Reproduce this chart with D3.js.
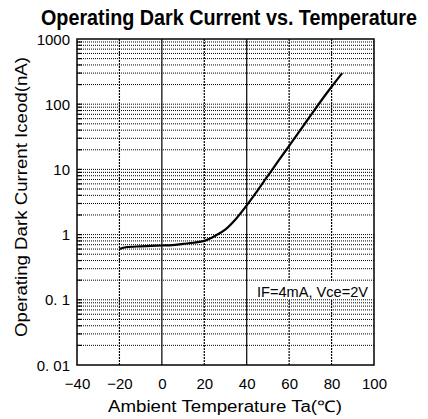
<!DOCTYPE html>
<html><head><meta charset="utf-8">
<script src="https://cdn.jsdelivr.net/npm/d3@7"></script>
<style>
html,body{margin:0;padding:0;background:#fff;}
svg text{font-family:"Liberation Sans",Arial,Helvetica,sans-serif;fill:#000;}
</style></head>
<body>
<svg id="chart" width="428" height="419"></svg>
<script>
// ---- data ----
const temperature = [-20, -17, -10, -5, 0, 5, 10, 15, 20, 25, 30, 35, 40, 45, 50, 55, 60, 65, 70, 75, 80, 85];
const darkCurrent = [0.60, 0.64, 0.66, 0.67, 0.68, 0.69, 0.72, 0.75, 0.80, 0.95, 1.2, 1.75, 2.8, 4.7, 8.0, 13.6, 23, 39, 66, 112, 185, 300];
const xTicks = [-40, -20, 0, 20, 40, 60, 80, 100];
const xTickLabels = ["\u221240", "\u221220", "0", "20", "40", "60", "80", "100"];
const yTicks = [0.01, 0.1, 1, 10, 100, 1000];
const yTickLabels = ["0. 01", "0. 1", "1", "10", "100", "1000"];
const titleText = "Operating Dark Current vs. Temperature";
const xTitle = "Ambient Temperature Ta(\u2103)";
const yTitle = "Operating Dark Current Iceod(nA)";
const note = "IF=4mA, Vce=2V";

// ---- layout ----
const L = 77, R = 374, T = 39, B = 365;
const svg = d3.select("#chart");
const x = d3.scaleLinear().domain([-40, 100]).range([L, R]);
const y = d3.scaleLog().domain([0.01, 1000]).range([B, T]);

// minor horizontal grid values (1..9 × each decade)
const minor = [];
for (let e = -2; e < 3; e++) {
  for (let m = 1; m <= 9; m++) {
    const v = m * Math.pow(10, e);
    if (v > 0.01 * 1.0001) minor.push(v);
  }
}

const grid = svg.append("g");
grid.selectAll("line.h").data(minor).join("line")
  .attr("class", "h")
  .attr("x1", L).attr("x2", R)
  .attr("y1", d => y(d)).attr("y2", d => y(d))
  .attr("stroke", "#000").attr("stroke-width", 1)
  .attr("stroke-dasharray", "1,1");

// left inward minor ticks
grid.selectAll("line.mt").data(minor).join("line")
  .attr("class", "mt")
  .attr("x1", L).attr("x2", L + 5)
  .attr("y1", d => y(d)).attr("y2", d => y(d))
  .attr("stroke", "#000").attr("stroke-width", 1.2);

// vertical grid
const vGrid = xTicks.slice(1, -1);
grid.selectAll("line.v").data(vGrid).join("line")
  .attr("class", "v")
  .attr("x1", d => x(d)).attr("x2", d => x(d))
  .attr("y1", T).attr("y2", B)
  .attr("stroke", "#000").attr("stroke-width", 1.2)
  .attr("stroke-dasharray", d => (d === 0 || d === 40) ? null : "2,1");

// note with white background
const noteG = svg.append("g");
noteG.append("rect").attr("x", 256).attr("y", 281).attr("width", R - 256).attr("height", 18).attr("fill", "#fff");
noteG.append("text").attr("x", 368).attr("y", 297).attr("text-anchor", "end")
  .attr("font-size", 15).attr("textLength", 111).attr("lengthAdjust", "spacingAndGlyphs")
  .text(note);

// curve
const line = d3.line().x((d, i) => x(temperature[i])).y(d => y(d)).curve(d3.curveMonotoneX);
svg.append("path").datum(darkCurrent)
  .attr("d", line).attr("fill", "none").attr("stroke", "#000").attr("stroke-width", 2.2);

// frame
svg.append("rect").attr("x", L).attr("y", T).attr("width", R - L).attr("height", B - T)
  .attr("fill", "none").attr("stroke", "#000").attr("stroke-width", 1.5);

// axes labels
const xAxis = d3.axisBottom(x).tickValues(xTicks).tickSize(0).tickPadding(0)
  .tickFormat((d, i) => xTickLabels[i]);
const gx = svg.append("g").attr("transform", `translate(0,${B})`).call(xAxis);
gx.select(".domain").remove();
gx.selectAll("text").attr("dy", null).attr("y", 24).attr("font-size", 15)
  .style("font-family", '"Liberation Sans",Arial,sans-serif');

const yAxis = d3.axisLeft(y).tickValues(yTicks).tickSize(0).tickPadding(0)
  .tickFormat((d, i) => yTickLabels[i]);
const gy = svg.append("g").attr("transform", `translate(${L - 7},0)`).call(yAxis);
gy.select(".domain").remove();
gy.selectAll("text").attr("dy", null).attr("y", 5).attr("font-size", 15)
  .style("font-family", '"Liberation Sans",Arial,sans-serif');

// titles
svg.append("text").attr("transform", "translate(229,25) scale(1,1.15)").attr("text-anchor", "middle")
  .attr("font-size", 19.5).attr("font-weight", "bold")
  .attr("textLength", 376).attr("lengthAdjust", "spacingAndGlyphs")
  .text(titleText);

svg.append("text").attr("x", 225).attr("y", 412).attr("text-anchor", "middle")
  .attr("font-size", 16).attr("textLength", 234).attr("lengthAdjust", "spacingAndGlyphs")
  .text(xTitle);

svg.append("text").attr("transform", "translate(27,197) rotate(-90)").attr("text-anchor", "middle")
  .attr("font-size", 16).attr("textLength", 280).attr("lengthAdjust", "spacingAndGlyphs")
  .text(yTitle);
</script>
</body></html>
